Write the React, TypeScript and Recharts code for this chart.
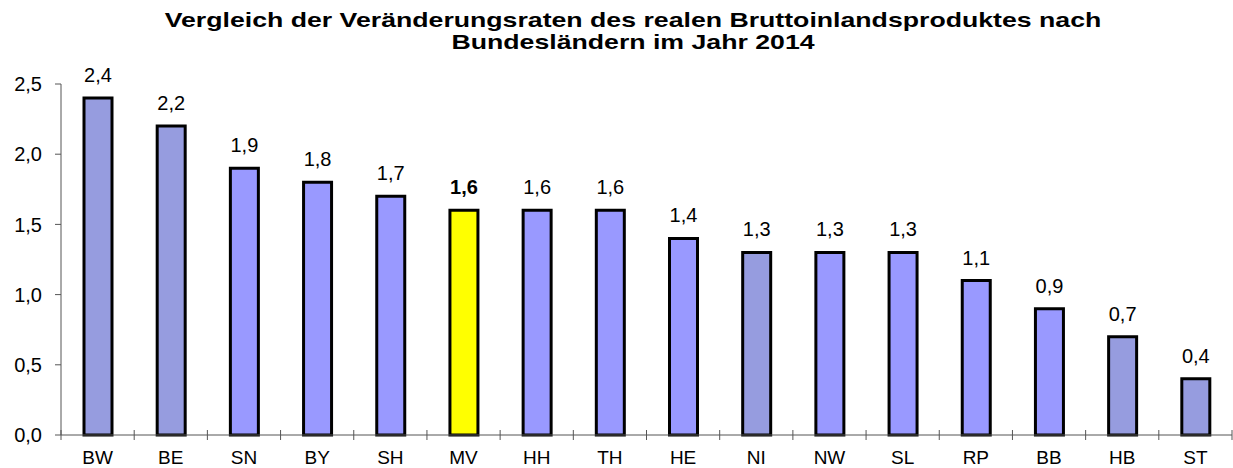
import React from 'react';
import { BarChart, Bar, XAxis, YAxis, Cell, LabelList } from 'recharts';

const categories = ['BW', 'BE', 'SN', 'BY', 'SH', 'MV', 'HH', 'TH', 'HE', 'NI', 'NW', 'SL', 'RP', 'BB', 'HB', 'ST'];
const values = [2.4, 2.2, 1.9, 1.8, 1.7, 1.6, 1.6, 1.6, 1.4, 1.3, 1.3, 1.3, 1.1, 0.9, 0.7, 0.4];
const groups = ['grey', 'grey', 'blue', 'blue', 'blue', 'highlight', 'blue', 'blue', 'blue', 'grey', 'blue', 'blue', 'blue', 'blue', 'grey', 'grey'];
const yTicks = [0, 0.5, 1.0, 1.5, 2.0, 2.5];
const titleLines = ['Vergleich der Veränderungsraten des realen Bruttoinlandsproduktes nach', 'Bundesländern im Jahr 2014'];

const colors: Record<string, string> = { grey: '#969CDF', blue: '#9999FF', highlight: '#FFFF00' };

const data = categories.map((c, i) => ({ name: c, value: values[i], group: groups[i] }));

const FONT = '"Liberation Sans", Arial, sans-serif';
const fmt = (v: number) => v.toFixed(1).replace('.', ',');

const XTick = (props: any) => {
  const { x, y, payload, index } = props;
  const off = payload.offset || 0;
  const axisY = y - 8;
  return (
    <g>
      <line x1={x - off} x2={x - off} y1={axisY - 5} y2={axisY + 5} stroke="#555" strokeWidth={1} />
      {index === categories.length - 1 && (
        <line x1={x + off} x2={x + off} y1={axisY - 5} y2={axisY + 5} stroke="#555" strokeWidth={1} />
      )}
      <text x={x} y={axisY + 29} textAnchor="middle" fontFamily={FONT} fontSize={19} fill="#000">
        {payload.value}
      </text>
    </g>
  );
};

const ValueLabel = (props: any) => {
  const { x, y, width, value, index } = props;
  const bold = groups[index] === 'highlight';
  return (
    <text x={x + width / 2} y={y - 16} textAnchor="middle" fontFamily={FONT} fontSize={20} fontWeight={bold ? 'bold' : 'normal'} fill="#000">
      {fmt(value)}
    </text>
  );
};

export default function App() {
  return (
    <div style={{ position: 'absolute', left: 0, top: 0, width: 1233, height: 468, background: '#fff' }}>
      <svg width={1233} height={60} style={{ position: 'absolute', left: 0, top: 0 }}>
        {titleLines.map((t, i) => (
          <text
            key={t}
            transform={`translate(633, ${27 + i * 22}) scale(1.27, 1)`}
            x={0}
            y={0}
            textAnchor="middle"
            fontFamily={FONT}
            fontWeight="bold"
            fontSize={21}
            fill="#000"
          >
            {t}
          </text>
        ))}
      </svg>
      <BarChart width={1233} height={468} data={data} margin={{ top: 84, right: 1, bottom: 3, left: 0 }} barCategoryGap={0}>
        <YAxis
          width={61}
          domain={[0, 2.5]}
          ticks={yTicks}
          tickFormatter={fmt}
          axisLine={{ stroke: '#555' }}
          tickLine={{ stroke: '#555' }}
          tickSize={6}
          tickMargin={13}
          tick={{ fontFamily: FONT, fontSize: 20, fill: '#000' }}
        />
        <XAxis dataKey="name" height={30} axisLine={{ stroke: '#555' }} tickLine={false} tick={<XTick />} interval={0} />
        <Bar dataKey="value" barSize={28} stroke="#000" strokeWidth={3} isAnimationActive={false}>
          {data.map((d, i) => (
            <Cell key={i} fill={colors[d.group]} />
          ))}
          <LabelList dataKey="value" content={<ValueLabel />} />
        </Bar>
      </BarChart>
    </div>
  );
}
